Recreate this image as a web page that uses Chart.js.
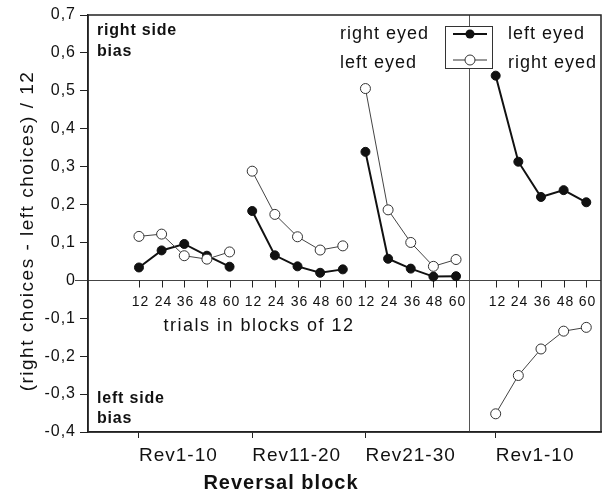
<!DOCTYPE html>
<html><head><meta charset="utf-8">
<script src="https://cdn.jsdelivr.net/npm/chart.js@4"></script>
<style>html,body{margin:0;padding:0;background:#fff}#wrap{width:607px;height:501px}</style>
</head><body><div id="wrap"><canvas id="c" width="607" height="501"></canvas></div>
<script>
// ---- data ----
const categories = ['Rev1-10', 'Rev11-20', 'Rev21-30', 'Rev1-10'];
const trials = [12, 24, 36, 48, 60];
const yTickValues = [-0.4, -0.3, -0.2, -0.1, 0, 0.1, 0.2, 0.3, 0.4, 0.5, 0.6, 0.7];

// filled circles (left panel: right eyed, right panel: left eyed)
const filledRev1_10 = [0.034, 0.079, 0.096, 0.065, 0.036];
const filledRev11_20 = [0.183, 0.066, 0.037, 0.020, 0.029];
const filledRev21_30 = [0.339, 0.057, 0.031, 0.010, 0.011];
const filledRev1_10b = [0.540, 0.313, 0.220, 0.238, 0.206];
// open circles (left panel: left eyed, right panel: right eyed)
const openRev1_10 = [0.116, 0.122, 0.065, 0.056, 0.075];
const openRev11_20 = [0.288, 0.174, 0.115, 0.080, 0.091];
const openRev21_30 = [0.506, 0.186, 0.100, 0.037, 0.055];
const openRev1_10b = [-0.352, -0.251, -0.181, -0.134, -0.124];

// ---- layout constants ----
const FONT = '"Liberation Sans", Arial, Helvetica, sans-serif';
const groupStart = [0, 5, 10, 15.75];
const dividerX = 14.55;
const xMin = -2.25, xMax = 20.4;

function build(groups) {
  const pts = [];
  groups.forEach((vals, g) => {
    vals.forEach((v, i) => pts.push({x: groupStart[g] + i, y: v}));
    if (g < groups.length - 1) pts.push({x: groupStart[g] + 4.5, y: null});
  });
  return pts;
}
const filledData = build([filledRev1_10, filledRev11_20, filledRev21_30, filledRev1_10b]);
const openData = build([openRev1_10, openRev11_20, openRev21_30, openRev1_10b]);

function fmt(v) {
  const r = Math.round(v * 10) / 10;
  if (r === 0) return '0';
  return r.toFixed(1).replace('.', ',');
}

function line(ctx, x1, y1, x2, y2) {
  ctx.beginPath(); ctx.moveTo(x1, y1); ctx.lineTo(x2, y2); ctx.stroke();
}

const deco = {
  id: 'deco',
  beforeLayout(chart) { chart.ctx.letterSpacing = '1px'; },
  beforeDraw(chart) {
    const ctx = chart.ctx;
    ctx.save(); ctx.fillStyle = '#fff'; ctx.fillRect(0, 0, chart.width, chart.height); ctx.restore();
    ctx.letterSpacing = '1px';
  },
  beforeDatasetsDraw(chart) {
    const {ctx, chartArea: a, scales: {x, y}} = chart;
    ctx.save();
    ctx.strokeStyle = '#555'; ctx.lineWidth = 1;
    const dx = Math.round(x.getPixelForValue(dividerX)) + 0.5;
    line(ctx, dx, a.top, dx, a.bottom);
    const zy = Math.round(y.getPixelForValue(0)) + 0.5;
    ctx.strokeStyle = '#444';
    line(ctx, a.left - 13, zy, a.right, zy);
    ctx.strokeStyle = '#222';
    ctx.lineWidth = 1.5;
    ctx.strokeRect(a.left, a.top, a.right - a.left, a.bottom - a.top);
    // inner trial ticks and labels
    ctx.lineWidth = 1;
    ctx.fillStyle = '#111';
    ctx.font = '14px ' + FONT;
    ctx.letterSpacing = '1px';
    ctx.textAlign = 'center'; ctx.textBaseline = 'middle';
    groupStart.forEach(g => trials.forEach((t, i) => {
      const px = Math.round(x.getPixelForValue(g + i)) + 0.5;
      line(ctx, px, zy, px, zy + 7);
      ctx.fillText(String(t), px + 1, zy + 22);
    }));
    ctx.font = '18px ' + FONT;
    ctx.letterSpacing = '1.5px';
    ctx.fillText('trials in blocks of 12', x.getPixelForValue(5.3), zy + 46);
    ctx.restore();
  },
  afterDatasetsDraw(chart) {
    const {ctx} = chart;
    ctx.save();
    // legend box
    ctx.fillStyle = '#fff';
    ctx.fillRect(445, 26, 47, 42);
    ctx.strokeStyle = '#333'; ctx.lineWidth = 1;
    ctx.strokeRect(445.5, 26.5, 47, 42);
    ctx.strokeStyle = '#111'; ctx.lineWidth = 2;
    line(ctx, 453, 34, 487, 34);
    ctx.fillStyle = '#111';
    ctx.beginPath(); ctx.arc(470, 34, 4.5, 0, Math.PI * 2); ctx.fill();
    ctx.strokeStyle = '#333'; ctx.lineWidth = 1;
    line(ctx, 453, 60, 487, 60);
    ctx.fillStyle = '#fff';
    ctx.beginPath(); ctx.arc(470, 60, 5, 0, Math.PI * 2); ctx.fill(); ctx.stroke();
    // legend texts
    ctx.fillStyle = '#111';
    ctx.font = '18px ' + FONT;
    ctx.letterSpacing = '1px';
    ctx.textAlign = 'left'; ctx.textBaseline = 'middle';
    ctx.fillText('right eyed', 340, 34);
    ctx.fillText('left eyed', 340, 63);
    ctx.fillText('left eyed', 508, 34);
    ctx.fillText('right eyed', 508, 63);
    // bias notes
    ctx.font = 'bold 16px ' + FONT;
    ctx.letterSpacing = '0.8px';
    ctx.fillText('right side', 97, 31);
    ctx.fillText('bias', 97, 52);
    ctx.fillText('left side', 97, 399);
    ctx.fillText('bias', 97, 419);
    ctx.restore();
  },
  afterDraw(chart) {
    const {ctx} = chart;
    ctx.save();
    ctx.fillStyle = '#111';
    ctx.textAlign = 'center'; ctx.textBaseline = 'middle';
    ctx.font = 'bold 20px ' + FONT;
    ctx.letterSpacing = '1px';
    ctx.fillText('Reversal block', 281, 483);
    ctx.translate(28, 231);
    ctx.rotate(-Math.PI / 2);
    ctx.font = '19px ' + FONT;
    ctx.letterSpacing = '1.5px';
    ctx.fillText('(right choices - left choices) / 12', 0, 0);
    ctx.restore();
  }
};

new Chart(document.getElementById('c'), {
  type: 'line',
  data: {
    datasets: [
      {
        label: 'open', data: openData, spanGaps: false,
        borderColor: '#444', borderWidth: 1,
        pointRadius: 5, pointHoverRadius: 5, pointBackgroundColor: '#fff',
        pointBorderColor: '#333', pointBorderWidth: 1, tension: 0, clip: false
      },
      {
        label: 'filled', data: filledData, spanGaps: false,
        borderColor: '#111', borderWidth: 2,
        pointRadius: 4.5, pointHoverRadius: 4.5, pointBackgroundColor: '#111',
        pointBorderColor: '#111', pointBorderWidth: 1, tension: 0, clip: false
      }
    ]
  },
  options: {
    responsive: false,
    animation: false,
    devicePixelRatio: 1,
    layout: {padding: {top: 15, right: 4, left: 0, bottom: 0}},
    plugins: {legend: {display: false}, tooltip: {enabled: false}},
    scales: {
      x: {
        type: 'linear', min: xMin, max: xMax,
        afterFit(s) { s.height = 69; },
        afterBuildTicks(s) { s.ticks = groupStart.map(v => ({value: v})); },
        ticks: {
          align: 'start', padding: 6, color: '#111',
          font: {family: FONT, size: 19},
          callback(v) { const i = groupStart.indexOf(v); return i >= 0 ? categories[i] : ''; }
        },
        grid: {drawOnChartArea: false, drawTicks: true, tickLength: 6, color: '#222'},
        border: {display: true, color: '#222', width: 1.5}
      },
      y: {
        type: 'linear', min: -0.4, max: 0.7,
        afterFit(s) { s.width = 88; },
        afterBuildTicks(s) { s.ticks = yTickValues.map(v => ({value: v})); },
        ticks: {
          padding: 4, color: '#111',
          font: {family: FONT, size: 16},
          callback(v) { return fmt(v); }
        },
        grid: {drawOnChartArea: false, drawTicks: true, tickLength: 8, color: '#222'},
        border: {display: true, color: '#222', width: 1.5}
      }
    }
  },
  plugins: [deco]
});
</script>
</body></html>
